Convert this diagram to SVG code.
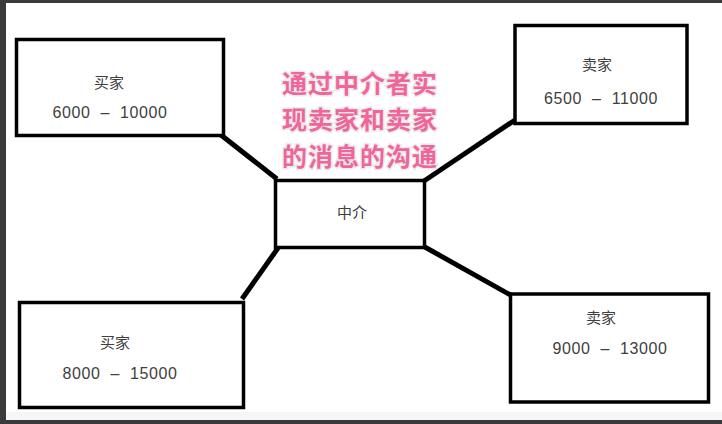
<svg xmlns="http://www.w3.org/2000/svg" width="722" height="424" viewBox="0 0 722 424">
<style>
.box{fill:#fff;stroke:#000;stroke-width:3.5}
.lbl{font-family:"Noto Sans CJK SC","Noto Sans",sans-serif;font-size:15px;fill:#404040;text-anchor:middle}
.num{font-family:"Liberation Sans","Noto Sans",sans-serif;font-size:16px;fill:#404040;text-anchor:middle;white-space:pre;letter-spacing:0.6px}
.conn{stroke:#000;stroke-width:5;stroke-linecap:butt;fill:none}
.note{font-family:"Noto Sans CJK SC",sans-serif;font-size:25px;font-weight:bold;fill:#f0659a;text-anchor:middle;stroke:#ececec;stroke-width:3;paint-order:stroke;letter-spacing:1px}
</style>
<rect x="0" y="0" width="722" height="424" fill="#fff"/>
<rect x="6" y="412" width="716" height="8" fill="#f6f6f6"/>
<rect x="0" y="0" width="722" height="3" fill="#3a3a3c"/>
<rect x="0" y="0" width="6" height="424" fill="#3a3a3c"/>
<rect x="0" y="420" width="722" height="4" fill="#3a3a3c"/>
<g id="connectors">
<line class="conn" x1="221" y1="135" x2="277" y2="179"/>
<line class="conn" x1="424" y1="181" x2="515" y2="120"/>
<line class="conn" x1="278" y1="248" x2="242" y2="299"/>
<line class="conn" x1="423" y1="246" x2="514" y2="297"/>
</g>
<g id="buyer1">
<rect class="box" x="16.5" y="39.5" width="207" height="96"/>
<text class="lbl" x="109" y="88">买家</text>
<text class="num" x="110" y="118" xml:space="preserve">6000  –  10000</text>
</g>
<g id="seller1">
<rect class="box" x="515" y="25.5" width="172" height="98"/>
<text class="lbl" x="597" y="70">卖家</text>
<text class="num" x="601" y="104" xml:space="preserve">6500  –  11000</text>
</g>
<g id="agent">
<rect class="box" x="275.5" y="180.5" width="149" height="67"/>
<text class="lbl" x="352" y="218">中介</text>
</g>
<g id="buyer2">
<rect class="box" x="19.5" y="302.5" width="224" height="105"/>
<text class="lbl" x="115" y="348">买家</text>
<text class="num" x="120" y="379" xml:space="preserve">8000  –  15000</text>
</g>
<g id="seller2">
<rect class="box" x="510.5" y="294" width="198" height="108"/>
<text class="lbl" x="601" y="323">卖家</text>
<text class="num" x="610" y="354" xml:space="preserve">9000  –  13000</text>
</g>
<g id="note">
<text class="note" x="360" y="93">通过中介者实</text>
<text class="note" x="360" y="129">现卖家和卖家</text>
<text class="note" x="360" y="166">的消息的沟通</text>
</g>
</svg>
